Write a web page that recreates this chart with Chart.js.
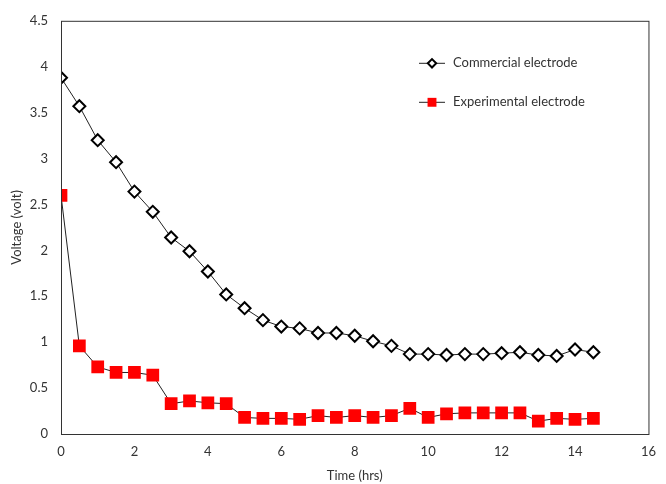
<!DOCTYPE html>
<html>
<head>
<meta charset="utf-8">
<script src="https://cdn.jsdelivr.net/npm/chart.js@4"></script>
<style>
  html, body { margin: 0; padding: 0; background: #fff; }
  #wrap { width: 666px; height: 484px; }
</style>
</head>
<body>
<div id="wrap"><canvas id="chart" width="666" height="484"></canvas></div>
<script>
// Time in hours
const times = [0, 0.5, 1, 1.5, 2, 2.5, 3, 3.5, 4, 4.5, 5, 5.5, 6, 6.5, 7, 7.5,
    8, 8.5, 9, 9.5, 10, 10.5, 11, 11.5, 12, 12.5, 13, 13.5, 14, 14.5];

// Voltage readings (volt)
const commercial = [3.88, 3.57, 3.20, 2.96, 2.64, 2.42, 2.14, 1.99, 1.77, 1.52,
    1.37, 1.24, 1.17, 1.15, 1.10, 1.10, 1.07, 1.01, 0.96, 0.87,
    0.87, 0.86, 0.87, 0.87, 0.88, 0.89, 0.86, 0.85, 0.92, 0.89];
const experimental = [2.60, 0.96, 0.73, 0.67, 0.67, 0.64, 0.33, 0.36, 0.34, 0.33,
    0.18, 0.17, 0.17, 0.16, 0.20, 0.18, 0.20, 0.18, 0.20, 0.28,
    0.18, 0.22, 0.23, 0.23, 0.23, 0.23, 0.14, 0.17, 0.16, 0.17];

const seriesNames = ['Commercial electrode', 'Experimental electrode'];

const FONT = 'Lato, "Open Sans", sans-serif';
const TEXT = '#333';

function toPoints(ys) {
    return times.map((t, i) => ({ x: t, y: ys[i] }));
}

// Frame around the plot area
const frame = {
    id: 'frame',
    afterDraw(chart) {
        const a = chart.chartArea;
        const ctx = chart.ctx;
        ctx.save();
        ctx.strokeStyle = '#333';
        ctx.lineWidth = 1;
        ctx.strokeRect(a.left + 0.5, a.top + 0.5, a.right - a.left, a.bottom - a.top);
        ctx.restore();
    }
};

// Legend drawn inside the plot area
const insideLegend = {
    id: 'insideLegend',
    afterDraw(chart) {
        const a = chart.chartArea;
        const ctx = chart.ctx;
        const x0 = a.left + 358;
        const rows = [a.top + 42, a.top + 81];
        chart.data.datasets.forEach((ds, i) => {
            const y = rows[i];
            ctx.save();
            ctx.strokeStyle = ds.borderColor;
            ctx.lineWidth = 1;
            ctx.beginPath();
            ctx.moveTo(x0, y + 0.5);
            ctx.lineTo(x0 + 26, y + 0.5);
            ctx.stroke();
            ctx.fillStyle = ds.pointBackgroundColor;
            ctx.strokeStyle = ds.pointBorderColor;
            ctx.lineWidth = ds.pointBorderWidth;
            Chart.helpers.drawPoint(ctx, {
                pointStyle: ds.pointStyle,
                radius: ds.pointRadius * 0.7,
                borderWidth: ds.pointBorderWidth
            }, x0 + 13, y + 0.5);
            ctx.fillStyle = TEXT;
            ctx.font = '13px ' + FONT;
            ctx.textBaseline = 'middle';
            ctx.fillText(ds.label, x0 + 34, y);
            ctx.restore();
        });
    }
};

new Chart(document.getElementById('chart'), {
    type: 'line',
    data: {
        datasets: [
            {
                label: seriesNames[0],
                data: toPoints(commercial),
                borderColor: '#222',
                borderWidth: 1,
                pointStyle: 'rectRot',
                pointRadius: 6,
                pointBackgroundColor: '#fff',
                pointBorderColor: '#000',
                pointBorderWidth: 2,
                tension: 0,
            },
            {
                label: seriesNames[1],
                data: toPoints(experimental),
                borderColor: '#222',
                borderWidth: 1,
                pointStyle: 'rect',
                pointRadius: 9,
                pointBackgroundColor: '#ff0000',
                pointBorderColor: '#ff0000',
                pointBorderWidth: 0,
                tension: 0,
            },
        ],
    },
    options: {
        responsive: false,
        animation: false,
        layout: { padding: { top: 16, right: 9, left: 9, bottom: 0 } },
        plugins: {
            legend: { display: false },
            tooltip: { enabled: false },
        },
        scales: {
            x: {
                type: 'linear',
                min: 0,
                max: 16,
                ticks: { stepSize: 2, color: TEXT, font: { family: FONT, size: 13 }, padding: 10 },
                grid: { display: false, drawTicks: false },
                border: { display: false },
                title: { display: true, text: 'Time (hrs)', color: TEXT, font: { family: FONT, size: 13 }, padding: { top: 1, bottom: 0 } },
                afterFit(scale) { scale.height = 50; },
            },
            y: {
                min: 0,
                max: 4.5,
                ticks: {
                    stepSize: 0.5,
                    color: TEXT,
                    font: { family: FONT, size: 13 },
                    padding: 13,
                    callback: (v) => String(v),
                },
                grid: { display: false, drawTicks: false },
                border: { display: false },
                title: { display: true, text: 'Voltage (volt)', color: TEXT, font: { family: FONT, size: 13 }, padding: { top: 0, bottom: 0 } },
                afterFit(scale) { scale.width = 52; },
            },
        },
    },
    plugins: [frame, insideLegend],
});
</script>
</body>
</html>
